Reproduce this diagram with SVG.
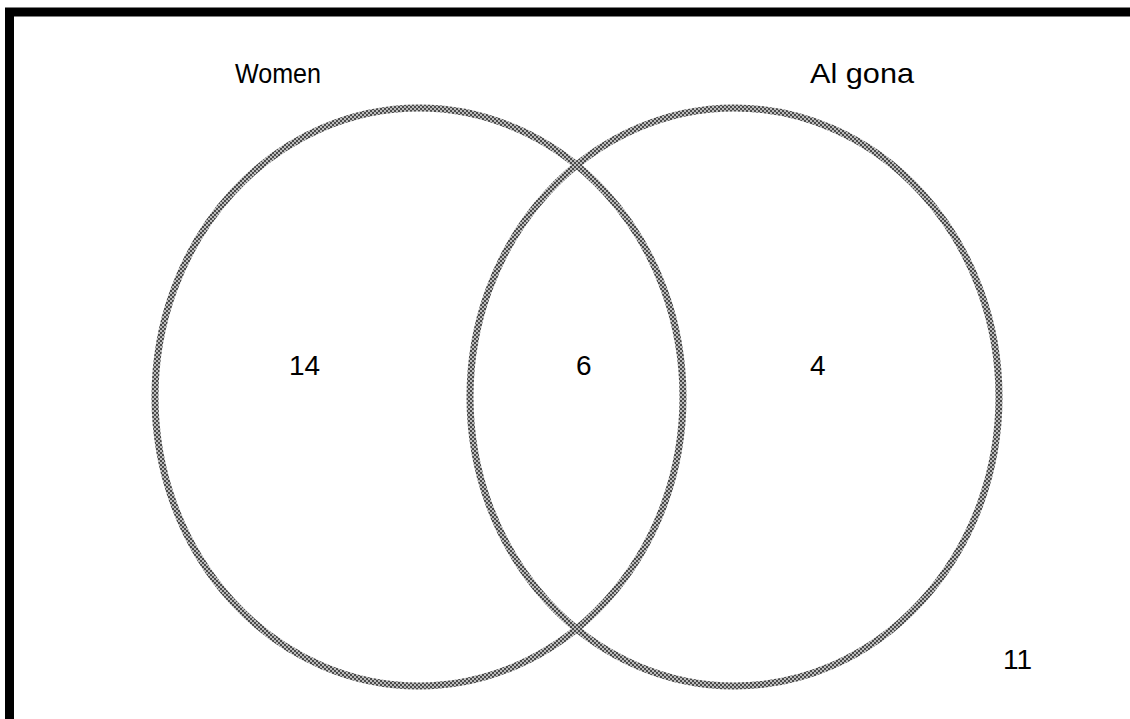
<svg xmlns="http://www.w3.org/2000/svg" width="1130" height="719" viewBox="0 0 1130 719">
<defs>
<pattern id="chk" width="4" height="4" patternUnits="userSpaceOnUse">
<rect width="4" height="4" fill="#bdbdbd"/>
<rect x="0" y="0" width="2" height="2" fill="#4a4a4a"/>
<rect x="2" y="2" width="2" height="2" fill="#4a4a4a"/>
</pattern>
</defs>
<style>
.lbl{font-family:"Liberation Sans",Arial,sans-serif;font-size:28px;fill:#000}
.ring{fill:none;stroke:url(#chk);stroke-width:7}
</style>
<rect x="0" y="0" width="1130" height="719" fill="#fff"/>
<rect x="9.5" y="12" width="1200" height="800" fill="none" stroke="#000" stroke-width="9"/>
<g id="women">
<ellipse class="ring" cx="419" cy="397" rx="264" ry="289"/>
<text class="lbl" x="235" y="83" textLength="86" lengthAdjust="spacingAndGlyphs">Women</text>
</g>
<g id="algona">
<ellipse class="ring" cx="734.5" cy="397" rx="264.5" ry="289"/>
<text class="lbl" x="810" y="83" textLength="104" lengthAdjust="spacingAndGlyphs">Al gona</text>
</g>
<g id="values">
<text class="lbl" x="289" y="375">14</text>
<text class="lbl" x="576" y="375">6</text>
<text class="lbl" x="810" y="375">4</text>
<text class="lbl" x="1003" y="669">11</text>
</g>
<g id="connectors"></g>
</svg>
